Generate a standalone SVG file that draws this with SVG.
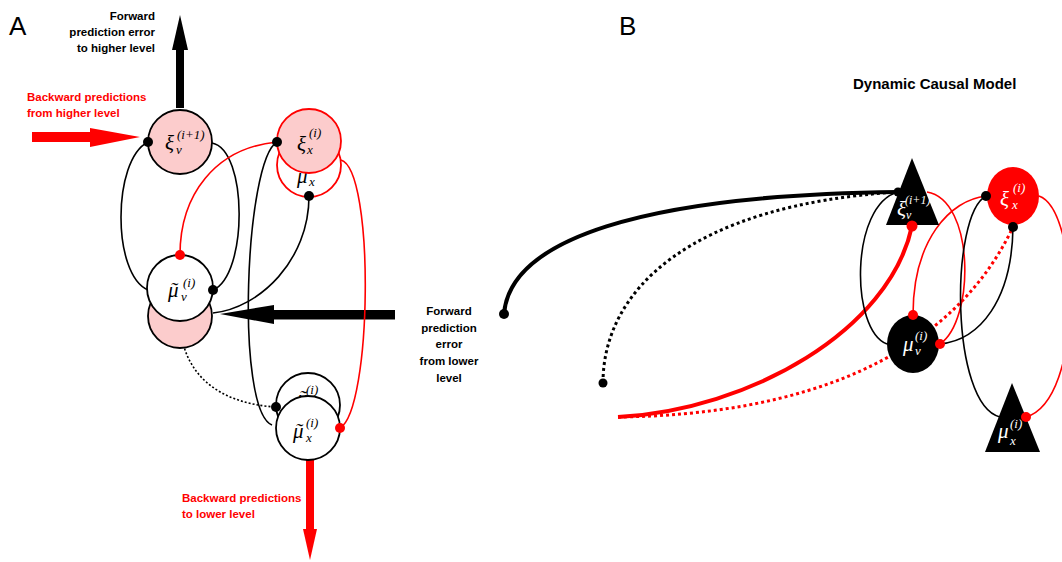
<svg xmlns="http://www.w3.org/2000/svg" width="1062" height="562" viewBox="0 0 1062 562">
<style>
.lbl{font-family:"Liberation Sans",Arial,sans-serif;font-weight:bold;font-size:11.5px}
.red{fill:#f00}
.blk{fill:#000}
.panel{font-family:"Liberation Sans",Arial,sans-serif;font-size:26px;fill:#000}
.m{font-family:"Liberation Serif","Times New Roman",serif;font-style:italic;font-size:21px}
.s{font-family:"Liberation Serif","Times New Roman",serif;font-style:italic;font-size:13px}
.w{fill:#fff}
.ln{fill:none;stroke:#000;stroke-width:1.6}
.lr{fill:none;stroke:#f00;stroke-width:1.6}
.dot{fill:#000}
.rdot{fill:#f00}
</style>
<rect width="1062" height="562" fill="#fff"/>

<!-- panel labels -->
<text class="panel" x="9" y="35">A</text>
<text class="panel" x="619" y="35">B</text>
<text class="lbl blk" x="155" y="20" text-anchor="end">Forward</text>
<text class="lbl blk" x="155" y="36" text-anchor="end">prediction error</text>
<text class="lbl blk" x="155" y="52" text-anchor="end">to higher level</text>
<text class="lbl red" x="27" y="101">Backward predictions</text>
<text class="lbl red" x="27" y="117">from higher level</text>
<text class="lbl red" x="182" y="502">Backward predictions</text>
<text class="lbl red" x="182" y="518">to lower level</text>
<g text-anchor="middle">
<text class="lbl blk" x="449" y="315">Forward</text>
<text class="lbl blk" x="449" y="331.5">prediction</text>
<text class="lbl blk" x="449" y="348">error</text>
<text class="lbl blk" x="449" y="365">from lower</text>
<text class="lbl blk" x="449" y="382">level</text>
</g>
<text x="853" y="89" style="font-family:'Liberation Sans',Arial,sans-serif;font-weight:bold;font-size:15px">Dynamic Causal Model</text>

<!-- big arrows -->
<g id="arrows">
<rect x="176" y="48" width="8" height="60" fill="#000"/>
<polygon points="180,15 172,50 188,50" fill="#000"/>
<rect x="32" y="132" width="60" height="10" fill="#f00"/>
<polygon points="140,137 90,128 90,147" fill="#f00"/>
<rect x="270" y="310" width="125" height="9.5" fill="#000"/>
<polygon points="220,314 274,305 274,324" fill="#000"/>
<rect x="306" y="460" width="8" height="72" fill="#f00"/>
<polygon points="310,560 303,529 317,529" fill="#f00"/>
</g>

<!-- connectors -->
<g id="connectors">
<!-- panel A -->
<path class="ln" d="M148,142 C112,160 112,275 148,290"/>
<path class="ln" d="M212,143 C248,150 248,275 213,290"/>
<path class="lr" d="M180,255 C180,195 215,148 277,142"/>
<path class="ln" d="M277,142 C245,160 235,410 272,425"/>
<path class="lr" d="M341,160 C375,170 372,410 340,428"/>
<path class="ln" d="M309,196 C309,260 260,308 213,313"/>
<path class="ln" d="M180,325 C185,390 240,405 276,407" stroke-dasharray="2,2"/>
<!-- panel B -->
<path fill="none" stroke="#000" stroke-width="4" d="M504,314 C510,240 640,195 898,192"/>
<path fill="none" stroke="#000" stroke-width="3" stroke-dasharray="3,3" d="M603,383 C603,290 690,205 898,192"/>
<path fill="none" stroke="#f00" stroke-width="4" d="M618,417 C750,410 890,330 912,226"/>
<path fill="none" stroke="#f00" stroke-width="3" stroke-dasharray="3,3" d="M618,417 C800,415 950,360 1013,227"/>
<path class="ln" d="M898,192 C850,205 850,330 887,344"/>
<path class="lr" d="M927,192 C975,200 975,320 940,344"/>
<path class="lr" d="M913,315 C913,240 950,200 986,196"/>
<path class="ln" d="M986,196 C950,215 950,405 1000,417"/>
<path class="ln" d="M1013,227 C1012,300 980,340 940,344"/>
<path class="lr" d="M1039,196 C1080,210 1085,400 1026,417"/>
</g>

<!-- panel A nodes -->
<g id="xi_v_A">
<circle cx="180" cy="142" r="32" fill="#fccccc" stroke="#000" stroke-width="1.8"/>
<text class="m" x="165" y="150">ξ</text>
<text class="s" x="177" y="139">(i+1)</text>
<text class="s" x="176" y="154">v</text>
</g>
<g id="mu_x_hidden_A">
<circle cx="309" cy="165" r="32" fill="#fff" stroke="#f00" stroke-width="1.8"/>
<text class="m" x="297" y="183">μ</text>
<text class="m" x="299" y="183">˜</text>
<text class="s" x="309" y="186">x</text>
</g>
<g id="xi_x_A">
<circle cx="309" cy="141" r="32" fill="#fccccc" stroke="#f00" stroke-width="1.8"/>
<text class="m" x="297" y="151">ξ</text>
<text class="s" x="309" y="137">(i)</text>
<text class="s" x="307" y="154">x</text>
</g>
<g id="mu_v_A">
<circle cx="180" cy="316" r="32" fill="#fccccc" stroke="#000" stroke-width="1.8"/>
<circle cx="180" cy="288" r="33" fill="#fff" stroke="#000" stroke-width="1.8"/>
<text class="m" x="168" y="297">μ</text>
<text class="m" x="170" y="297">˜</text>
<text class="s" x="183" y="287">(i)</text>
<text class="s" x="181" y="301">v</text>
</g>
<g id="mu_x_A">
<circle cx="308" cy="405" r="32" fill="#fff" stroke="#000" stroke-width="1.8"/>
<text class="m" x="297" y="405">μ</text>
<text class="m" x="299" y="405">˜</text>
<text class="s" x="306" y="394">(i)</text>
<circle cx="308" cy="428" r="32" fill="#fff" stroke="#000" stroke-width="1.8"/>
<text class="m" x="293" y="438">μ</text>
<text class="m" x="295" y="438">˜</text>
<text class="s" x="306" y="427">(i)</text>
<text class="s" x="306" y="442">x</text>
</g>

<!-- panel B nodes -->
<g id="xi_v_B">
<polygon points="912,158 886,225 939,225" fill="#000"/>
<text class="m w" x="897" y="216">ξ</text>
<text class="s w" x="905" y="204" style="font-size:12px">(i+1)</text>
<text class="s w" x="906" y="219" style="font-size:12px">v</text>
</g>
<g id="xi_x_B">
<ellipse cx="1013" cy="196" rx="26" ry="29" fill="#f00"/>
<text class="m w" x="1000" y="206">ξ</text>
<text class="s w" x="1013" y="192">(i)</text>
<text class="s w" x="1012" y="209">x</text>
</g>
<g id="mu_v_B">
<ellipse cx="913" cy="344" rx="26" ry="29" fill="#000"/>
<text class="m w" x="903" y="351">μ</text>
<text class="s w" x="915" y="340">(i)</text>
<text class="s w" x="915" y="355">v</text>
</g>
<g id="mu_x_B">
<polygon points="1012,383 985,452 1040,452" fill="#000"/>
<text class="m w" x="998" y="438">μ</text>
<text class="s w" x="1010" y="428">(i)</text>
<text class="s w" x="1010" y="445">x</text>
</g>

<!-- connector endpoints -->
<g id="endpoints">
<circle class="dot" cx="148" cy="142" r="5"/>
<circle class="dot" cx="277" cy="142" r="5"/>
<circle class="dot" cx="309" cy="196" r="5"/>
<circle class="dot" cx="213" cy="290" r="5"/>
<circle class="rdot" cx="180" cy="255" r="5"/>
<circle class="dot" cx="276" cy="407" r="5"/>
<circle class="rdot" cx="340" cy="428" r="5"/>
<circle class="dot" cx="504" cy="314" r="5"/>
<circle class="dot" cx="603" cy="383" r="4.5"/>
<circle class="dot" cx="898" cy="192" r="4.5"/>
<circle class="rdot" cx="912" cy="226" r="5.5"/>
<circle class="dot" cx="986" cy="196" r="5"/>
<circle class="dot" cx="1013" cy="227" r="5"/>
<circle class="rdot" cx="913" cy="315" r="5"/>
<circle class="rdot" cx="940" cy="344" r="5"/>
<circle class="rdot" cx="1026" cy="417" r="5"/>
</g>
</svg>
